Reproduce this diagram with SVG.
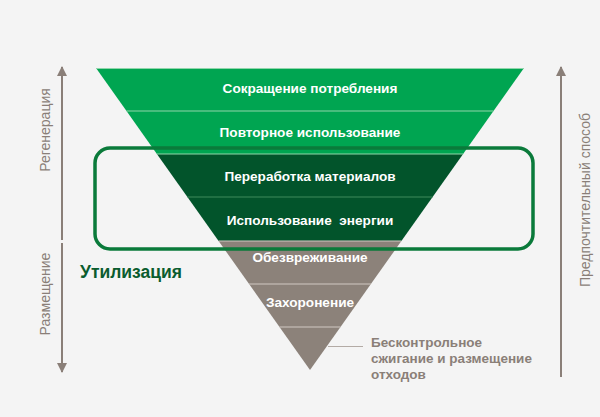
<svg xmlns="http://www.w3.org/2000/svg" width="600" height="417" viewBox="0 0 600 417">
<defs>
<style>
.band{font-family:"Liberation Sans",Arial,sans-serif;font-weight:bold;font-size:13.6px;fill:#ffffff;text-anchor:middle}
.side{font-family:"Liberation Sans",Arial,sans-serif;font-size:14px;fill:#8a7f78;text-anchor:middle}
.note{font-family:"Liberation Sans",Arial,sans-serif;font-weight:bold;font-size:13.5px;fill:#8a7f78}
.axis{stroke:#8a7f78;stroke-width:2;fill:none}
.sepg{stroke:#8fd6aa;stroke-width:1.2}
.sepd{stroke:#3f8a5c;stroke-width:1.2}
.sepy{stroke:#cfc7c1;stroke-width:1.2}
</style>
<marker id="arr" viewBox="0 0 10 10" refX="9" refY="5" markerWidth="5" markerHeight="5" orient="auto" markerUnits="strokeWidth">
<path d="M0,0 L10,5 L0,10 Z" fill="#8a7f78"/>
</marker>
</defs>
<rect width="600" height="417" fill="#f4f4f4"/>

<g id="band1">
<polygon points="96,68 524,68 493.5,111 126.5,111" fill="#00a551"/>
<line class="sepg" x1="96" y1="68.5" x2="524" y2="68.5"/>
<text class="band" x="310" y="93">Сокращение потребления</text>
</g>
<g id="band2">
<polygon points="126.5,111 493.5,111 463.1,154 156.9,154" fill="#00a551"/>
<line class="sepg" x1="126.5" y1="111" x2="493.5" y2="111"/>
<text class="band" x="310" y="137">Повторное использование</text>
</g>
<g id="band3">
<polygon points="156.9,154 463.1,154 432.6,197 187.4,197" fill="#02542b"/>
<line class="sepg" x1="156.9" y1="154" x2="463.1" y2="154"/>
<text class="band" x="310" y="181">Переработка материалов</text>
</g>
<g id="band4">
<polygon points="187.4,197 432.6,197 401.4,241 218.6,241" fill="#02542b"/>
<line class="sepd" x1="187.4" y1="197" x2="432.6" y2="197"/>
<text class="band" x="310" y="225" xml:space="preserve">Использование  энергии</text>
</g>
<g id="band5">
<polygon points="218.6,241 401.4,241 370.9,284 249.1,284" fill="#8c827a"/>
<line class="sepy" x1="218.6" y1="241" x2="401.4" y2="241"/>
<text class="band" x="310" y="262">Обезвреживание</text>
</g>
<g id="band6">
<polygon points="249.1,284 370.9,284 340.5,327 279.5,327" fill="#8c827a"/>
<line class="sepy" x1="249.1" y1="284" x2="370.9" y2="284"/>
<text class="band" x="310" y="307">Захоронение</text>
</g>
<g id="band7">
<polygon points="279.5,327 340.5,327 310,370" fill="#8c827a"/>
<line class="sepy" x1="279.5" y1="327" x2="340.5" y2="327"/>
</g>

<g id="utilization">
<rect x="95" y="148" width="438" height="101" rx="15" ry="15" fill="none" stroke="#0a7a3a" stroke-width="3.5"/>
<text x="80" y="278" font-family="Liberation Sans, Arial, sans-serif" font-weight="bold" font-size="17.5" fill="#0a5c2e">Утилизация</text>
</g>

<g id="connectors">
<line class="axis" x1="62" y1="240" x2="62" y2="67" marker-end="url(#arr)"/>
<line class="axis" x1="62" y1="243" x2="62" y2="372" marker-end="url(#arr)"/>
<line class="axis" x1="561" y1="377" x2="561" y2="67" marker-end="url(#arr)"/>
<line x1="328" y1="346.5" x2="363" y2="346.5" stroke="#b3aba5" stroke-width="1.2"/>
</g>

<g id="labels">
<text class="side" transform="translate(50,130) rotate(-90)">Регенерация</text>
<text class="side" transform="translate(50,294) rotate(-90)">Размещение</text>
<text class="side" transform="translate(590,200) rotate(-90)">Предпочтительный способ</text>
</g>

<g id="note">
<text class="note" x="371" y="347">Бесконтрольное</text>
<text class="note" x="371" y="363">сжигание и размещение</text>
<text class="note" x="371" y="379">отходов</text>
</g>
</svg>
